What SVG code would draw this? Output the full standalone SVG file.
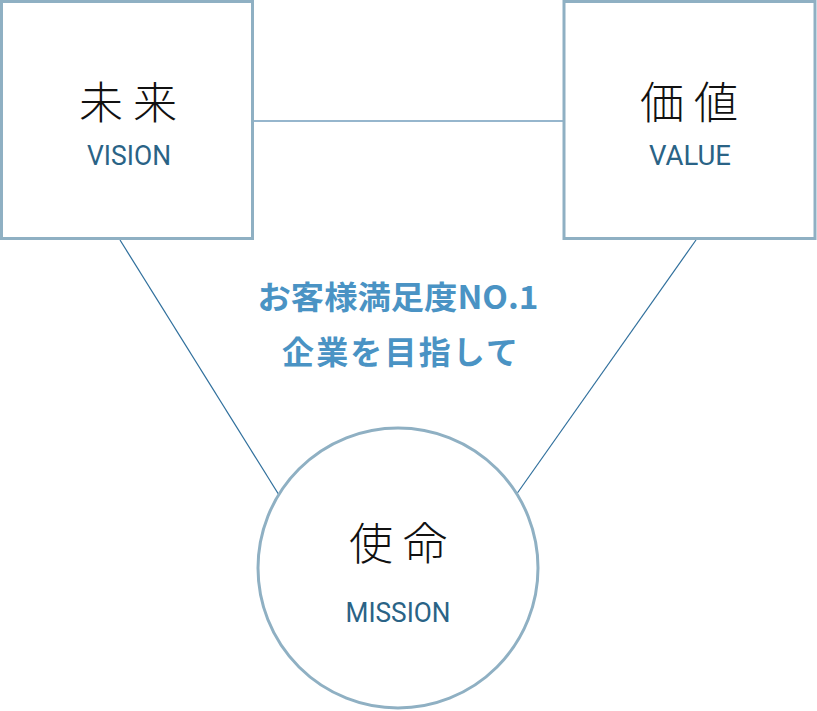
<svg xmlns="http://www.w3.org/2000/svg" width="817" height="711" viewBox="0 0 817 711">
<style>
.box{fill:#fff;stroke:#8fb0c3;stroke-width:3}
.conn{stroke:#2f6f9c;stroke-width:1.2;fill:none}
.jp{font-family:"Noto Sans CJK JP",sans-serif;font-weight:300;font-size:44px;fill:#111;text-anchor:middle;letter-spacing:10px}
.en{font-family:Roboto,"Liberation Sans",sans-serif;font-size:28px;fill:#2a6386;text-anchor:middle}
.mid{font-family:"Noto Sans CJK JP",sans-serif;font-weight:700;font-size:32px;fill:#4a93c4;text-anchor:middle}
</style>
<rect width="817" height="711" fill="#fff"/>
<g id="connectors">
<line class="conn" x1="253" y1="121" x2="563" y2="121"/>
<line class="conn" x1="120" y1="240" x2="279" y2="495"/>
<line class="conn" x1="696" y1="240" x2="516" y2="495"/>
</g>
<g id="vision">
<rect class="box" x="1.5" y="1.5" width="251" height="237"/>
<text class="jp" x="133" y="119">未来</text>
<text class="en" x="129" y="165" textLength="84" lengthAdjust="spacingAndGlyphs">VISION</text>
</g>
<g id="value">
<rect class="box" x="564" y="1.5" width="251" height="237"/>
<text class="jp" x="694" y="119">価値</text>
<text class="en" x="690" y="165" textLength="82" lengthAdjust="spacingAndGlyphs">VALUE</text>
</g>
<g id="mission">
<circle class="box" cx="398" cy="568" r="140"/>
<text class="jp" x="403" y="560">使命</text>
<text class="en" x="398" y="622" textLength="105" lengthAdjust="spacingAndGlyphs">MISSION</text>
</g>
<g id="slogan">
<text class="mid" x="398" y="309" textLength="281" lengthAdjust="spacingAndGlyphs">お客様満足度NO.1</text>
<text class="mid" x="400" y="364" textLength="236" lengthAdjust="spacing">企業を目指して</text>
</g>
</svg>
